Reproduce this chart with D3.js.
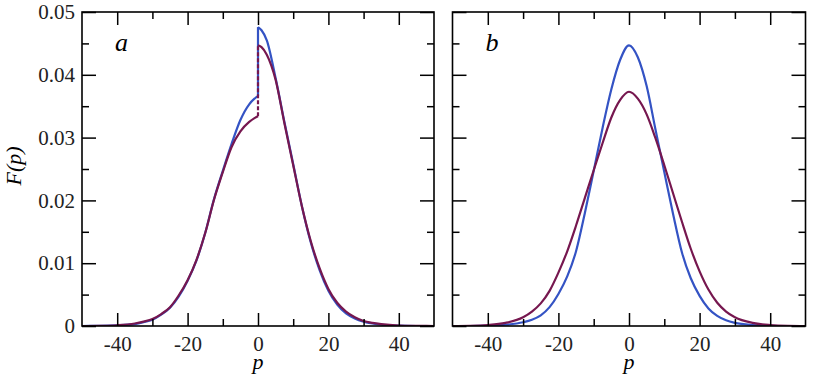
<!DOCTYPE html>
<html>
<head>
<meta charset="utf-8">
<script src="https://cdn.jsdelivr.net/npm/d3@7"></script>
<style>
  body { margin: 0; background: #fff; }
  svg text { font-family: "Liberation Serif", "DejaVu Serif", serif; }
</style>
</head>
<body>
<div id="chartdiv"></div>
<script>
// panel a: distribution has a jump at p = 0, so left and right branches are kept apart
var pLeft = [-50, -45, -40, -35, -32.5, -30, -27.5, -25, -22.5, -20, -17.5,
             -15, -12.5, -10, -7.5, -5, -2.5, -1, 0];
var aBlueLeft = [0, 0.00002, 0.0001, 0.0003, 0.0006, 0.001, 0.0018, 0.0029,
                 0.0047, 0.0072, 0.0104, 0.0148, 0.0202, 0.0247, 0.029,
                 0.0328, 0.0353, 0.0362, 0.0366];
var aPurpleLeft = [0, 0.00003, 0.00012, 0.0004, 0.0007, 0.0011, 0.0019,
                   0.003, 0.0049, 0.0073, 0.0105, 0.0148, 0.0201, 0.0245,
                   0.0285, 0.031, 0.0325, 0.0331, 0.0334];

var pRight = [0, 1, 2.5, 5, 7.5, 10, 12.5, 15, 17.5, 20, 22.5, 25, 27.5, 30,
              32.5, 35, 40, 45, 50];
var aBlueRight = [0.0476, 0.0471, 0.0455, 0.0395, 0.0325, 0.0258, 0.019,
                  0.0133, 0.0089, 0.0056, 0.0034, 0.002, 0.0012, 0.0007,
                  0.0004, 0.0002, 0.00005, 0, 0];
var aPurpleRight = [0.0447, 0.0444, 0.0432, 0.0392, 0.0323, 0.0256, 0.019,
                    0.0135, 0.0092, 0.0059, 0.0037, 0.0023, 0.0014, 0.0008,
                    0.0005, 0.0003, 0.00008, 0.00002, 0];

// panel b: both centred on zero, the purple one broader
var pFull = [-50, -45, -40, -35, -30, -27.5, -25, -22.5, -20, -17.5, -15,
             -12.5, -10, -7.5, -5, -2.5, 0, 2.5, 5, 7.5, 10, 12.5, 15, 17.5,
             20, 22.5, 25, 27.5, 30, 35, 40, 45, 50];
var bBlue = [0, 0, 0.00005, 0.0002, 0.0006, 0.001, 0.0017, 0.003, 0.0051,
             0.0079, 0.0119, 0.018, 0.0247, 0.0315, 0.0377, 0.0424, 0.0447,
             0.0428, 0.0382, 0.0313, 0.0245, 0.0178, 0.0117, 0.0076, 0.0048,
             0.0028, 0.0016, 0.0009, 0.0005, 0.00015, 0.00003, 0, 0];
var bPurple = [0, 0.00003, 0.00015, 0.0005, 0.0014, 0.0023, 0.0036, 0.0056,
               0.0085, 0.0119, 0.016, 0.0204, 0.0248, 0.0291, 0.0332, 0.036,
               0.0373, 0.0362, 0.0337, 0.0299, 0.0256, 0.0211, 0.0166, 0.0123,
               0.0087, 0.0058, 0.0037, 0.0023, 0.0014, 0.0005, 0.00015,
               0.00003, 0];

var xMajor = [-40, -20, 0, 20, 40];
var xMinor = [-30, -10, 10, 30];
var xLabels = ["-40", "-20", "0", "20", "40"];
var yMajor = [0, 0.01, 0.02, 0.03, 0.04, 0.05];
var yMinor = [0.005, 0.015, 0.025, 0.035, 0.045];
var yLabels = ["0", "0.01", "0.02", "0.03", "0.04", "0.05"];

(function () {
    "use strict";

    var W = 815, H = 375,
        top = 12, bottom = 326,
        serif = "'Liberation Serif', 'DejaVu Serif', serif",
        blue = "#3453c4", purple = "#76174f",
        panels = [{x0: 82, x1: 434, tag: "a", ylabels: true},
                  {x0: 452.5, x1: 805.5, tag: "b", ylabels: false}],
        svg, y;

    function zip (ps, vs) {
        return ps.map(function (p, i) { return [p, vs[i]]; });
    }

    function noDomain (a) {
        a.attr("font-family", null);
        a.select(".domain").remove();
    }

    svg = d3.select("#chartdiv").append("svg")
        .attr("width", W).attr("height", H);

    y = d3.scaleLinear().domain([0, 0.05]).range([bottom, top]);

    function drawFrame (g, x, pan) {
        var majLen = 13, minLen = 7;
        // bottom and top ticks, pointing inward
        g.append("g").attr("transform", "translate(0," + bottom + ")")
            .call(d3.axisBottom(x).tickValues(xMajor).tickSize(-majLen)
                  .tickPadding(10).tickSizeOuter(0)
                  .tickFormat(function (d, i) { return xLabels[i]; }))
            .call(noDomain);
        g.append("g").attr("transform", "translate(0," + bottom + ")")
            .call(d3.axisBottom(x).tickValues(xMinor).tickSize(-minLen)
                  .tickFormat("").tickSizeOuter(0))
            .call(noDomain);
        g.append("g").attr("transform", "translate(0," + top + ")")
            .call(d3.axisTop(x).tickValues(xMajor).tickSize(-majLen)
                  .tickFormat("").tickSizeOuter(0))
            .call(noDomain);
        g.append("g").attr("transform", "translate(0," + top + ")")
            .call(d3.axisTop(x).tickValues(xMinor).tickSize(-minLen)
                  .tickFormat("").tickSizeOuter(0))
            .call(noDomain);
        // left and right ticks
        g.append("g").attr("transform", "translate(" + pan.x0 + ",0)")
            .call(d3.axisLeft(y).tickValues(yMajor).tickSize(-14)
                  .tickPadding(7).tickSizeOuter(0)
                  .tickFormat(function (d, i) {
                      return pan.ylabels ? yLabels[i] : ""; }))
            .call(noDomain);
        g.append("g").attr("transform", "translate(" + pan.x0 + ",0)")
            .call(d3.axisLeft(y).tickValues(yMinor).tickSize(-7)
                  .tickFormat("").tickSizeOuter(0))
            .call(noDomain);
        g.append("g").attr("transform", "translate(" + pan.x1 + ",0)")
            .call(d3.axisRight(y).tickValues(yMajor).tickSize(-14)
                  .tickFormat("").tickSizeOuter(0))
            .call(noDomain);
        g.append("g").attr("transform", "translate(" + pan.x1 + ",0)")
            .call(d3.axisRight(y).tickValues(yMinor).tickSize(-7)
                  .tickFormat("").tickSizeOuter(0))
            .call(noDomain);
        g.selectAll(".tick line").attr("stroke", "#000").attr("stroke-width", 1.5);
        g.selectAll(".tick text")
            .style("font-family", serif).style("font-size", "21px")
            .attr("fill", "#222");
        g.append("rect")
            .attr("x", pan.x0).attr("y", top)
            .attr("width", pan.x1 - pan.x0).attr("height", bottom - top)
            .attr("fill", "none").attr("stroke", "#000").attr("stroke-width", 1.6);
    }

    function drawCurve (g, x, pts, color, dash) {
        var line = d3.line()
            .x(function (d) { return x(d[0]); })
            .y(function (d) { return y(d[1]); })
            .curve(d3.curveMonotoneX);
        g.append("path").datum(pts)
            .attr("d", line)
            .attr("fill", "none").attr("stroke", color)
            .attr("stroke-width", 2.2)
            .attr("stroke-dasharray", dash || null)
            .attr("stroke-linejoin", "round");
    }

    panels.forEach(function (pan, idx) {
        var g = svg.append("g"),
            x = d3.scaleLinear().domain([-50, 50]).range([pan.x0, pan.x1]),
            clip = "clip" + idx, cg;
        svg.append("clipPath").attr("id", clip).append("rect")
            .attr("x", pan.x0).attr("y", top)
            .attr("width", pan.x1 - pan.x0).attr("height", bottom - top);
        cg = g.append("g").attr("clip-path", "url(#" + clip + ")");
        if(idx === 0) {
            drawCurve(cg, x, zip(pLeft, aBlueLeft), blue);
            drawCurve(cg, x, zip(pRight, aBlueRight), blue);
            drawCurve(cg, x, [[0, aBlueLeft[aBlueLeft.length - 1]],
                              [0, aBlueRight[0]]], blue);
            drawCurve(cg, x, zip(pLeft, aPurpleLeft), purple);
            drawCurve(cg, x, zip(pRight, aPurpleRight), purple);
            drawCurve(cg, x, [[0, aPurpleLeft[aPurpleLeft.length - 1]],
                              [0, aPurpleRight[0]]], purple, "4,2"); }
        else {
            drawCurve(cg, x, zip(pFull, bBlue), blue);
            drawCurve(cg, x, zip(pFull, bPurple), purple); }
        drawFrame(g, x, pan);
        g.append("text")
            .attr("x", pan.x0 + 33).attr("y", 51)
            .style("font-family", serif)
            .style("font-size", "26px").style("font-style", "italic")
            .text(pan.tag);
        g.append("text")
            .attr("x", x(0)).attr("y", 369)
            .attr("text-anchor", "middle")
            .style("font-family", serif)
            .style("font-size", "22px").style("font-style", "italic")
            .text("p");
    });

    svg.append("text")
        .attr("transform", "translate(21,166) rotate(-90)")
        .attr("text-anchor", "middle")
        .style("font-family", serif)
        .style("font-size", "22px").style("font-style", "italic")
        .text("F(p)");
}());
</script>
</body>
</html>
